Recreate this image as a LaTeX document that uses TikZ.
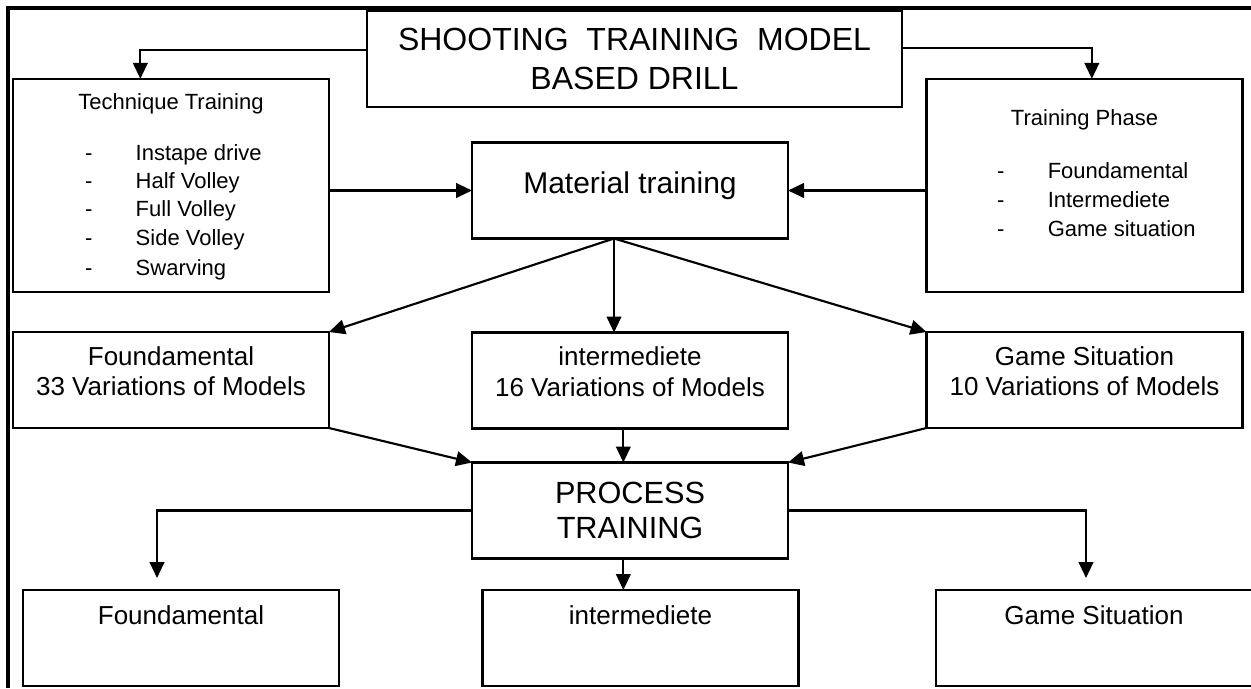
\documentclass[tikz,border=0pt]{standalone}
\usepackage{fontspec}
\setmainfont{Liberation Sans}
\usetikzlibrary{arrows.meta,positioning}

\begin{document}
\begin{tikzpicture}[
x=0.75pt, y=-0.75pt,
line width=1.6pt,
  box/.style = {rectangle, draw,% plain boxes of the drill scheme
                minimum width=237pt, minimum height=72pt,
                inner sep=0pt, outer sep=0pt},
  txt/.style = {inner sep=0pt, align=center,
                font=\fontsize{19.5}{23}\selectfont},
  lst/.style = {anchor=base west, inner sep=0pt,
                font=\fontsize{16.5}{20}\selectfont},% list lines
  arr/.style = {-{Triangle[length=12pt,width=11pt]}},
                        ]
\useasboundingbox (0,0) rectangle (1251,688);
\draw[line width=2.4pt] (8,688) -- (8,8) -- (1251,8);
% top row
\node[box, minimum width=401pt, align=center,
      font=\fontsize{24}{29}\selectfont] (title) at (634.5,59)
      {SHOOTING\ \ TRAINING\ \ MODEL\\BASED DRILL};
\node[box, minimum height=160pt] (tech)  at (171,185.5) {};
\node[box, minimum height=160pt] (phase) at (1084.5,185.5) {};
\node[box] (mat) at (630,190.5) {};
\node[txt, font=\fontsize{16.5}{20}\selectfont, below=10pt of tech.north] (tech-t) {Technique Training};
\node[txt, font=\fontsize{16.5}{20}\selectfont, below=22pt of phase.north] (phase-t) {Training Phase};
\node[txt, font=\fontsize{22.5}{27}\selectfont, below=21pt of mat.north] (mat-t) {Material training};
\foreach \t/\y in {Instape drive/161, Half Volley/188, Full Volley/216,
                   Side Volley/245, Swarving/275}% <-- technique list
    \node[lst] (tq-\y) at (84,\y) {\makebox[38pt][l]{-}\t};
\foreach \t/\y in {Foundamental/178, Intermediete/207, Game situation/236}
    \node[lst] (ph-\y) at (996,\y) {\makebox[38pt][l]{-}\t};
% variations row
\node[box] (fund)  at (171,380) {};
\node[box] (inter) at (630,380.5) {};
\node[box] (game)  at (1084.5,380) {};
\node[txt, below=10pt of fund.north]  (fund-t)  {Foundamental\\33 Variations of Models};
\node[txt, below=10pt of inter.north] (inter-t) {intermediete\\16 Variations of Models};
\node[txt, below=10pt of game.north]  (game-t)  {Game Situation\\10 Variations of Models};
% process
\node[box, align=center, font=\fontsize{23}{26}\selectfont] (proc) at (630,510.5) {PROCESS\\TRAINING};
% bottom row
\node[box] (fund2)  at (181,638) {};
\node[box] (inter2) at (640.5,638) {};
\node[box] (game2)  at (1094,638) {};
\node[txt, below=11pt of fund2.north]  (fund2-t)  {Foundamental};
\node[txt, below=11pt of inter2.north] (inter2-t) {intermediete};
\node[txt, below=11pt of game2.north]  (game2-t)  {Game Situation};
% connectors
\draw[arr] ([yshift=7pt]title.west) -| ([xshift=-23pt]tech.north);
\draw[arr] ([yshift=8pt]title.east) -| ([xshift=5.5pt]phase.north);
\draw[arr] (tech.east |- mat.west) -- (mat.west);
\draw[arr] (phase.west |- mat.east) -- (mat.east);
\coordinate (fan) at ([xshift=-12pt]mat.south);
\draw[arr] (fan) -- (fund.north east);
\draw[arr] (fan) -- (fan |- inter.north);
\draw[arr] (fan) -- (game.north west);
\draw[arr] (fund.south east) -- (proc.north west);
\draw[arr] ([xshift=-5pt]inter.south) -- ([xshift=-5pt]proc.north);
\draw[arr] (game.south west) -- (proc.north east);
\draw[arr] (proc.west) -| ([xshift=-18pt,yshift=9pt]fund2.north);
\draw[arr] (proc.east) -| ([xshift=-6pt,yshift=9pt]game2.north);
\draw[arr] ([xshift=-5pt]proc.south) -- ([xshift=-5pt]proc.south |- inter2.north);
    \end{tikzpicture}
\end{document}
